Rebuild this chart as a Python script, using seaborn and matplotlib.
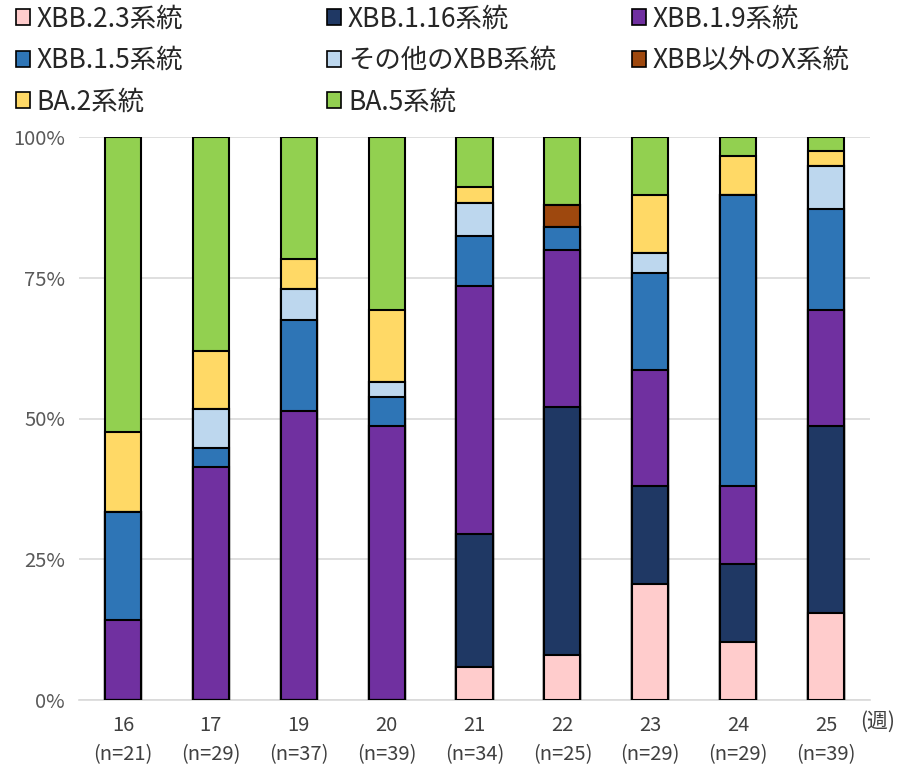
import numpy as np
import pandas as pd
import matplotlib
matplotlib.use("Agg")
import matplotlib.pyplot as plt
from matplotlib.patches import Patch
import seaborn as sns

sns.set_theme(style="white")
plt.rcParams['font.family'] = ['Noto Sans CJK JP', 'DejaVu Sans']

# Epidemiological weeks and sample sizes
weeks = ["16", "17", "19", "20", "21", "22", "23", "24", "25"]
n_total = [21, 29, 37, 39, 34, 25, 29, 29, 39]

# Lineage names (stacking order, bottom to top)
lineages = ["XBB.2.3系統", "XBB.1.16系統", "XBB.1.9系統", "XBB.1.5系統",
            "その他のXBB系統", "XBB以外のX系統", "BA.2系統", "BA.5系統"]

# Detected counts per week for each lineage
xbb_2_3 = [0, 0, 0, 0, 2, 2, 6, 3, 6]
xbb_1_16 = [0, 0, 0, 0, 8, 11, 5, 4, 13]
xbb_1_9 = [3, 12, 19, 19, 15, 7, 6, 4, 8]
xbb_1_5 = [4, 1, 6, 2, 3, 1, 5, 15, 7]
xbb_other = [0, 2, 2, 1, 2, 0, 1, 0, 3]
x_non_xbb = [0, 0, 0, 0, 0, 1, 0, 0, 0]
ba_2 = [3, 3, 2, 5, 1, 0, 3, 2, 1]
ba_5 = [11, 11, 8, 12, 3, 3, 3, 1, 1]

colors = ["#FFCCCC", "#1F3864", "#7030A0", "#2E75B6",
          "#BDD7EE", "#9E480E", "#FFD966", "#92D050"]

counts = np.array([xbb_2_3, xbb_1_16, xbb_1_9, xbb_1_5,
                   xbb_other, x_non_xbb, ba_2, ba_5], dtype=float)
shares = counts / np.array(n_total, dtype=float)
cum = np.cumsum(shares, axis=0)

fig = plt.figure(figsize=(8.99, 7.71), dpi=100)
ax = fig.add_axes([79 / 899, 1 - 700 / 771, 791 / 899, 563 / 771])

# Draw cumulative bars from the top layer down so each segment shows its share
for i in range(len(lineages) - 1, -1, -1):
    df = pd.DataFrame({"week": weeks, "top": cum[i]})
    sns.barplot(data=df, x="week", y="top", order=weeks, color=colors[i],
                width=0.41, edgecolor="black", linewidth=1.5, saturation=1,
                ax=ax, zorder=3)

ax.set_ylim(0, 1)
ax.set_xlim(-0.5, 8.5)
ax.set_yticks([0, 0.25, 0.5, 0.75, 1.0])
ax.set_yticklabels(["0%", "25%", "50%", "75%", "100%"])
ax.yaxis.grid(True, color="#D9D9D9", linewidth=1.2, zorder=0)
ax.set_axisbelow(True)
for s in ax.spines.values():
    s.set_visible(False)
ax.spines["bottom"].set_visible(True)
ax.spines["bottom"].set_color("#D9D9D9")
ax.spines["bottom"].set_linewidth(1.2)

ax.set_xticks(range(len(weeks)))
ax.set_xticklabels([f"{w}\n(n={n})" for w, n in zip(weeks, n_total)],
                   fontsize=14.5, color="#404040", linespacing=1.5)
ax.tick_params(axis="x", length=0, pad=11)
ax.tick_params(axis="y", length=0, pad=10, labelsize=14.5, labelcolor="#595959")
ax.set_xlabel("")
ax.set_ylabel("")
ax.text(8.39, -0.0195, "(週)", transform=ax.transData, fontsize=15,
        color="#404040", va="top", ha="left")

handles = [Patch(facecolor=c, edgecolor="black", linewidth=1.2, label=l)
           for c, l in zip(colors, lineages)]

# Legend laid out as three evenly placed columns (row-major order)
col_x = [-0.006, 0.340, 0.679]
for c in range(3):
    idx = [i for i in range(c, len(lineages), 3)]
    leg = fig.legend([handles[i] for i in idx], [lineages[i] for i in idx],
                     ncol=1, loc="upper left", bbox_to_anchor=(col_x[c], 1.02),
                     frameon=False, fontsize=19, handlelength=0.55,
                     handleheight=0.55, handletextpad=0.25,
                     labelspacing=0.55, borderpad=0.3)
    for t in leg.get_texts():
        t.set_color("#262626")

fig.savefig("out.png", dpi=100)
